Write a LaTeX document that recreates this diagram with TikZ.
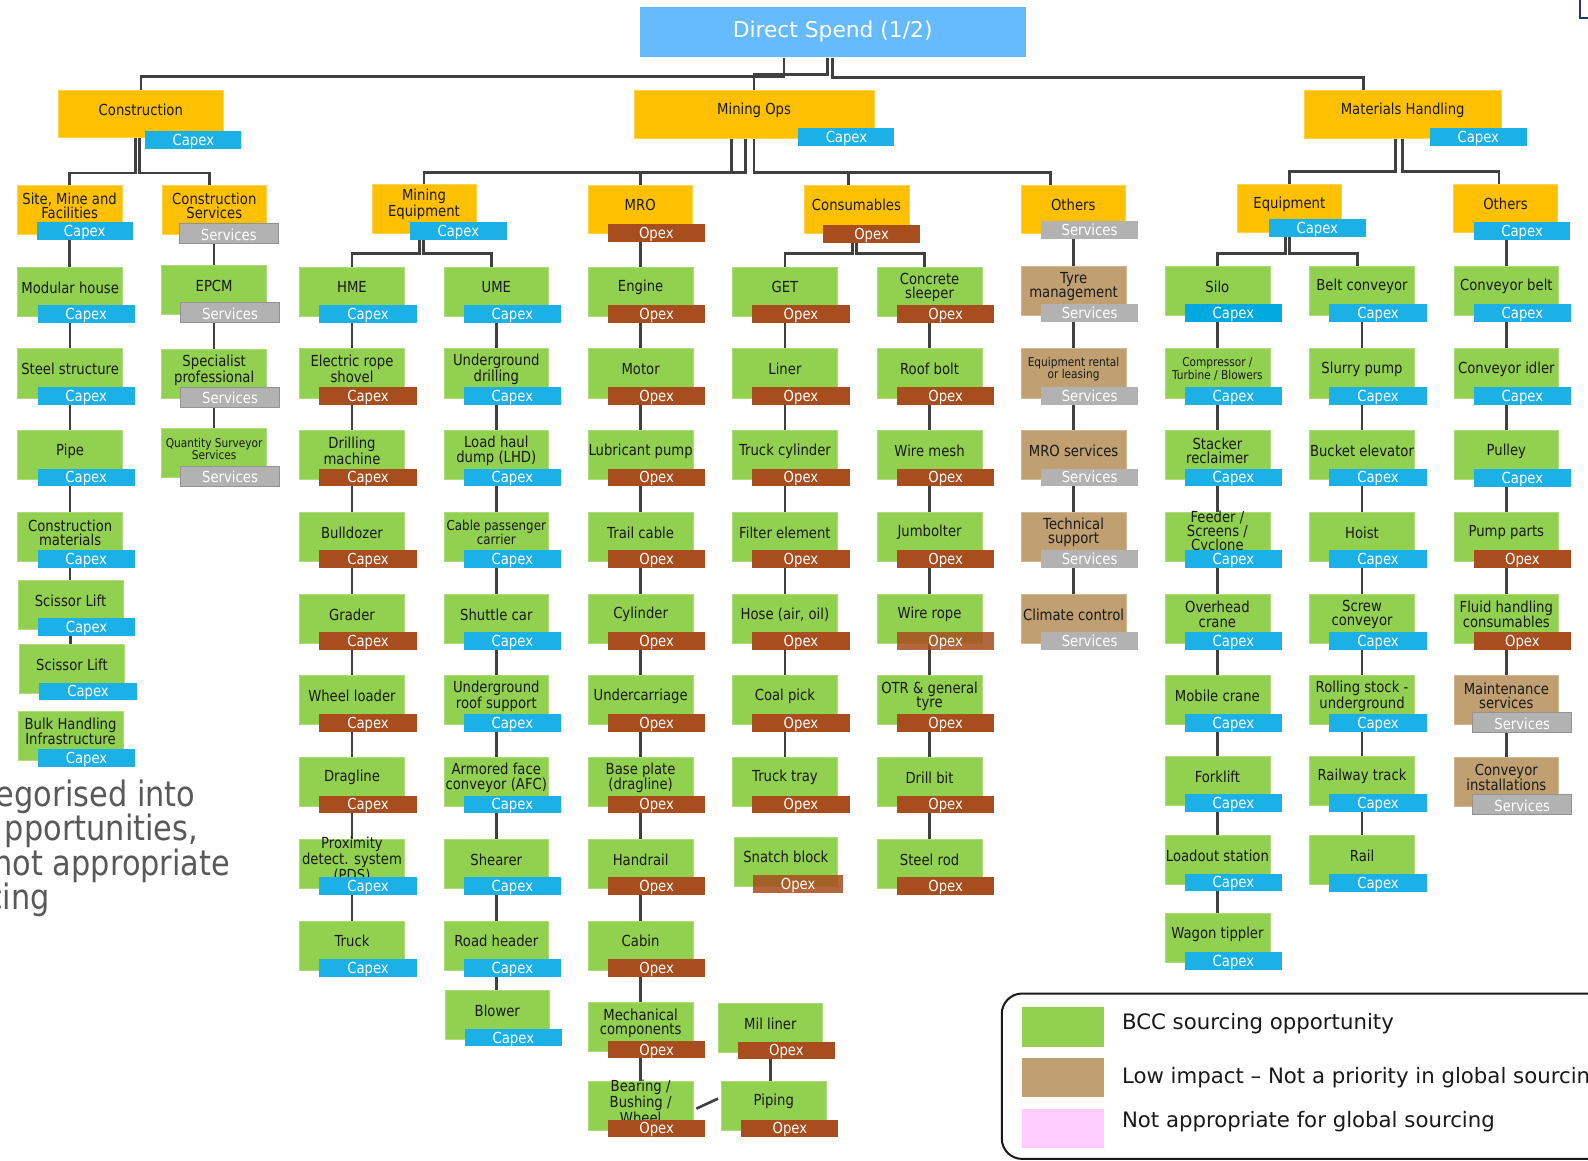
\documentclass[tikz,border=0pt]{standalone}
\usepackage{fontspec}
\setmainfont{DejaVu Sans}
\newfontfamily\condf[FakeStretch=0.87]{DejaVu Sans}
\usetikzlibrary{fit,calc}
\pgfdeclarelayer{back}
\pgfdeclarelayer{bg}
\pgfsetlayers{back,bg,main}
\definecolor{cgreen}{RGB}{146,208,80}
\definecolor{corange}{RGB}{255,192,0}
\definecolor{ctan}{RGB}{192,160,112}
\definecolor{cblue}{RGB}{27,177,230}
\definecolor{cblueb}{RGB}{0,169,224}
\definecolor{cbrown}{RGB}{168,77,30}
\definecolor{cgray}{RGB}{178,178,178}
\definecolor{ctitle}{RGB}{102,187,255}
\definecolor{cpink}{RGB}{255,204,255}
\definecolor{cline}{RGB}{64,64,64}
\definecolor{cnavy}{RGB}{31,56,100}
\definecolor{ctext}{RGB}{25,25,25}
\definecolor{cbig}{RGB}{89,89,89}
\tikzset{
  conn/.style={draw=cline, line width=2.6pt},
  txt/.style={font=\condf\fontsize{15}{14}\selectfont, align=center, inner sep=0pt, text=ctext, anchor=center},
  small/.style={font=\condf\fontsize{12}{11.5}\selectfont},
  mid/.style={font=\condf\fontsize{13.5}{13}\selectfont},
  tagtxt/.style={font=\condf\fontsize{15}{15}\selectfont, text=white, anchor=base, inner sep=0pt},
  leafbox/.style={fill=#1, draw=#1!75!white, line width=0.6pt, inner sep=0pt, minimum width=103.5pt, minimum height=48.5pt, anchor=north west},
  catbox/.style={fill=corange, draw=corange!70!white, line width=0.6pt, inner sep=0pt},
  tagbase/.style={inner sep=0pt, anchor=north west, minimum width=96pt, minimum height=17.5pt, xshift=19.7pt, yshift=-37.8pt},
  capex/.style={tagbase, fill=cblue},
  opex/.style={tagbase, fill=cbrown},
  svc/.style={tagbase, fill=cgray},
  svcb/.style={inner sep=0pt, anchor=north west, minimum width=97.9pt, minimum height=19.7pt, xshift=18.4pt, yshift=-36.9pt, fill=cgray, draw=gray!85, line width=0.8pt},
  legtxt/.style={font=\fontsize{21}{25}\selectfont, text=ctext, anchor=base west, inner sep=0pt},
  bigtxt/.style={font=\condf\fontsize{34.5}{34}\selectfont, text=cbig, anchor=base east, inner sep=0pt},
}
\newcommand\mkleaf[8][]{%
  \node[leafbox=#5] (#2) at (#3,#4) {};
  \node[txt,#1] (#2-l) at ([yshift=-20.5pt]#2.north) {#6};
  \node[#7] (#2-t) at (#3,#4) {};
  \node[tagtxt] (#2-tt) at ([yshift=3.6pt]#2-t.south) {#8};
}
\newcommand\mkcat[6]{%
  \node[catbox, fit={(#2,#3) (#4,#5)}] (#1) {};
  \node[txt] (#1-l) at ([yshift=-20pt]#1.north) {#6};
}
\newcommand\mktag[7]{%
  \node[inner sep=0pt, #6, fit={(#2,#3) (#4,#5)}] (#1) {};
  \node[tagtxt] (#1-x) at ([yshift=3.6pt]#1.south) {#7};
}
\begin{document}
\begin{tikzpicture}[x=1pt,y=-1pt]
\useasboundingbox (0,0) rectangle (1568,1146);
\begin{pgfonlayer}{back}
  \fill[white] (0,0) rectangle (1568,1146);
\end{pgfonlayer}

% ---------- title and level 1
\node[fill=ctitle, inner sep=0pt, fit={(631.7,7.2) (1012.6,56.6)}] (ds) {};
\node[font=\fontsize{21.5}{25}\selectfont, text=white, anchor=base, inner sep=0pt] (dst) at ([yshift=20pt]ds.south) {Direct Spend (1/2)};

\mkcat{cons}{57.4}{88.9}{220.7}{135.9}{Construction}
\mktag{cons-t}{143.6}{129.3}{238.3}{146.8}{fill=cblue}{Capex}
\mkcat{mops}{626.2}{88.9}{862.9}{136.9}{Mining Ops}
\mktag{mops-t}{788.4}{126.7}{883.2}{143.8}{fill=cblue}{Capex}
\mkcat{mh}{1287.5}{88.9}{1482.5}{136.6}{Materials Handling}
\mktag{mh-t}{1412}{126.7}{1507.3}{143.8}{fill=cblue}{Capex}

% ---------- level 2
\mkcat{site}{17.1}{183.3}{120.4}{231}{Site, Mine and\\Facilities}
\mktag{site-t}{36.3}{219.2}{131}{236.7}{fill=cblue}{Capex}
\mkcat{csvc}{160.2}{183.3}{263}{231}{Construction\\Services}
\mktag{csvc-t}{177.3}{220.9}{274.5}{240.6}{fill=cgray,draw=gray!85,line width=0.8pt}{Services}
\mkcat{meq}{367.3}{182.3}{470}{230.4}{Mining\\Equipment}
\mktag{meq-t}{405}{219.2}{500.2}{236.7}{fill=cblue}{Capex}
\mkcat{mro}{580.7}{182.6}{683.6}{230.4}{MRO}
\mktag{mro-t}{600.4}{221.2}{695.7}{238.6}{fill=cbrown}{Opex}
\mkcat{csm}{793.9}{182.7}{897.5}{230.4}{Consumables}
\mktag{csm-t}{812.8}{222.2}{908.4}{239.6}{fill=cbrown}{Opex}
\mkcat{oth1}{1008.1}{182.7}{1111.4}{230.4}{Others}
\mktag{oth1-t}{1028}{218.2}{1123.6}{235.7}{fill=cgray}{Services}
\mkcat{equip}{1221.4}{181.7}{1324.8}{229.7}{Equipment}
\mktag{equip-t}{1252.8}{216.2}{1348.6}{234}{fill=cblue}{Capex}
\mkcat{oth2}{1435}{181.7}{1538.1}{229.7}{Others}
\mktag{oth2-t}{1455.3}{219.2}{1550.6}{236.7}{fill=cblue}{Capex}

% ---------- column 1
\mkleaf{c1a}{17.2}{263.3}{cgreen}{Modular house}{capex}{Capex}
\mkleaf{c1b}{17.2}{344}{cgreen}{Steel structure}{capex}{Capex}
\mkleaf{c1c}{17.2}{424.7}{cgreen}{Pipe}{capex}{Capex}
\mkleaf{c1d}{17.2}{505.4}{cgreen}{Construction\\materials}{capex}{Capex}
\mkleaf{c1e}{17.6}{572.7}{cgreen}{Scissor Lift}{capex}{Capex}
\mkleaf{c1f}{19}{635.9}{cgreen}{Scissor Lift}{capex}{Capex}
\mkleaf{c1g}{17.6}{701.7}{cgreen}{Bulk Handling\\Infrastructure}{capex}{Capex}
% ---------- column 2
\mkleaf{c2a}{159.4}{261.6}{cgreen}{EPCM}{svcb}{Services}
\mkleaf{c2b}{159.4}{344.9}{cgreen}{Specialist\\professional}{svcb}{Services}
\mkleaf[small]{c2c}{159.4}{422.9}{cgreen}{Quantity Surveyor\\Services}{svcb}{Services}
% ---------- column 3
\mkleaf{c3a}{295.5}{263.3}{cgreen}{HME}{capex}{Capex}
\mkleaf{c3b}{295.5}{344}{cgreen}{Electric rope\\shovel}{opex}{Capex}
\mkleaf{c3c}{295.5}{424.7}{cgreen}{Drilling\\machine}{opex}{Capex}
\mkleaf{c3d}{295.5}{505.4}{cgreen}{Bulldozer}{opex}{Capex}
\mkleaf{c3e}{295.5}{586.1}{cgreen}{Grader}{opex}{Capex}
\mkleaf{c3f}{295.5}{666.8}{cgreen}{Wheel loader}{opex}{Capex}
\mkleaf{c3g}{295.5}{747.5}{cgreen}{Dragline}{opex}{Capex}
\mkleaf{c3h}{295.5}{828.2}{cgreen}{Proximity\\detect. system\\(PDS)}{capex}{Capex}
\mkleaf{c3i}{295.5}{908.9}{cgreen}{Truck}{capex}{Capex}
% ---------- column 4
\mkleaf{c4a}{438}{263.3}{cgreen}{UME}{capex}{Capex}
\mkleaf{c4b}{438}{344}{cgreen}{Underground\\drilling}{capex}{Capex}
\mkleaf{c4c}{438}{424.7}{cgreen}{Load haul\\dump (LHD)}{capex}{Capex}
\mkleaf[mid]{c4d}{438}{505.4}{cgreen}{Cable passenger\\carrier}{capex}{Capex}
\mkleaf{c4e}{438}{586.1}{cgreen}{Shuttle car}{capex}{Capex}
\mkleaf{c4f}{438}{666.8}{cgreen}{Underground\\roof support}{capex}{Capex}
\mkleaf{c4g}{438}{747.5}{cgreen}{Armored face\\conveyor (AFC)}{capex}{Capex}
\mkleaf{c4h}{438}{828.2}{cgreen}{Shearer}{capex}{Capex}
\mkleaf{c4i}{438}{908.9}{cgreen}{Road header}{capex}{Capex}
\mkleaf{c4j}{439}{977.8}{cgreen}{Blower}{capex}{Capex}
% ---------- column 5
\mkleaf{c5a}{580.5}{263.3}{cgreen}{Engine}{opex}{Opex}
\mkleaf{c5b}{580.5}{344}{cgreen}{Motor}{opex}{Opex}
\mkleaf{c5c}{580.5}{424.7}{cgreen}{Lubricant pump}{opex}{Opex}
\mkleaf{c5d}{580.5}{505.4}{cgreen}{Trail cable}{opex}{Opex}
\mkleaf{c5e}{580.5}{586.1}{cgreen}{Cylinder}{opex}{Opex}
\mkleaf{c5f}{580.5}{666.8}{cgreen}{Undercarriage}{opex}{Opex}
\mkleaf{c5g}{580.5}{747.5}{cgreen}{Base plate\\(dragline)}{opex}{Opex}
\mkleaf{c5h}{580.5}{828.2}{cgreen}{Handrail}{opex}{Opex}
\mkleaf{c5i}{580.5}{908.9}{cgreen}{Cabin}{opex}{Opex}
\mkleaf{c5j}{580.5}{989.6}{cgreen}{Mechanical\\components}{opex}{Opex}
\mkleaf{c5k}{580.5}{1067.4}{cgreen}{Bearing /\\Bushing /\\Wheel}{opex}{Opex}
\mkleaf{mil}{708.6}{990.4}{cgreen}{Mil liner}{opex}{Opex}
\mkleaf{pip}{712}{1067.4}{cgreen}{Piping}{opex}{Opex}
% ---------- column 6
\mkleaf{c6a}{723}{263.3}{cgreen}{GET}{opex}{Opex}
\mkleaf{c6b}{723}{344}{cgreen}{Liner}{opex}{Opex}
\mkleaf{c6c}{723}{424.7}{cgreen}{Truck cylinder}{opex}{Opex}
\mkleaf{c6d}{723}{505.4}{cgreen}{Filter element}{opex}{Opex}
\mkleaf{c6e}{723}{586.1}{cgreen}{Hose (air, oil)}{opex}{Opex}
\mkleaf{c6f}{723}{666.8}{cgreen}{Coal pick}{opex}{Opex}
\mkleaf{c6g}{723}{747.5}{cgreen}{Truck tray}{opex}{Opex}
\node[leafbox=cgreen, minimum width=101.8pt] (c6h) at (724.7,826.1) {};
\node[txt] (c6h-l) at ([yshift=-20.4pt]c6h.north) {Snatch block};
\node[opex, fill opacity=0.85, minimum width=89pt, xshift=-1pt] (c6h-t) at (724.7,826.1) {};
\node[tagtxt] (c6h-tt) at ([yshift=3.6pt]c6h-t.south) {Opex};
% ---------- column 7
\mkleaf{c7a}{865.8}{263.3}{cgreen}{Concrete\\sleeper}{opex}{Opex}
\mkleaf{c7b}{865.8}{344}{cgreen}{Roof bolt}{opex}{Opex}
\mkleaf{c7c}{865.8}{424.7}{cgreen}{Wire mesh}{opex}{Opex}
\mkleaf{c7d}{865.8}{505.4}{cgreen}{Jumbolter}{opex}{Opex}
\mkleaf{c7e}{865.8}{586.1}{cgreen}{Wire rope}{opex, fill opacity=0.85}{Opex}
\mkleaf{c7f}{865.8}{666.8}{cgreen}{OTR \& general\\tyre}{opex}{Opex}
\mkleaf{c7g}{865.8}{747.5}{cgreen}{Drill bit}{opex}{Opex}
\mkleaf{c7h}{865.8}{828.2}{cgreen}{Steel rod}{opex}{Opex}
% ---------- column 8
\mkleaf{c8a}{1008}{262.5}{ctan}{Tyre\\management}{svc}{Services}
\mkleaf[small]{c8b}{1008}{344}{ctan}{Equipment rental\\or leasing}{svc}{Services}
\mkleaf{c8c}{1008}{424.7}{ctan}{MRO services}{svc}{Services}
\mkleaf{c8d}{1008}{505.4}{ctan}{Technical\\support}{svc}{Services}
\mkleaf{c8e}{1008}{586.1}{ctan}{Climate control}{svc}{Services}
% ---------- column 9
\mkleaf{c9a}{1150}{262.5}{cgreen}{Silo}{capex, fill=cblueb}{Capex}
\mkleaf[small]{c9b}{1150}{344}{cgreen}{Compressor /\\Turbine / Blowers}{capex}{Capex}
\mkleaf{c9c}{1150}{424.7}{cgreen}{Stacker\\reclaimer}{capex}{Capex}
\mkleaf{c9d}{1150}{505.4}{cgreen}{Feeder /\\Screens /\\Cyclone}{capex}{Capex}
\mkleaf{c9e}{1150}{586.1}{cgreen}{Overhead\\crane}{capex}{Capex}
\mkleaf{c9f}{1150}{666.8}{cgreen}{Mobile crane}{capex}{Capex}
\mkleaf{c9g}{1150}{746.1}{cgreen}{Forklift}{capex}{Capex}
\mkleaf{c9h}{1150}{824.5}{cgreen}{Loadout station}{capex}{Capex}
\mkleaf{c9i}{1150}{901.8}{cgreen}{Wagon tippler}{capex}{Capex}
% ---------- column 10
\mkleaf{c10a}{1292.8}{262.5}{cgreen}{Belt conveyor}{capex}{Capex}
\mkleaf{c10b}{1292.8}{344}{cgreen}{Slurry pump}{capex}{Capex}
\mkleaf{c10c}{1292.8}{424.7}{cgreen}{Bucket elevator}{capex}{Capex}
\mkleaf{c10d}{1292.8}{505.4}{cgreen}{Hoist}{capex}{Capex}
\mkleaf{c10e}{1292.8}{586.1}{cgreen}{Screw\\conveyor}{capex}{Capex}
\mkleaf{c10f}{1292.8}{666.8}{cgreen}{Rolling stock -\\underground}{capex}{Capex}
\mkleaf{c10g}{1292.8}{746.1}{cgreen}{Railway track}{capex}{Capex}
\mkleaf{c10h}{1292.8}{824.8}{cgreen}{Rail}{capex}{Capex}
% ---------- column 11
\mkleaf{c11a}{1435.3}{262.5}{cgreen}{Conveyor belt}{capex}{Capex}
\mkleaf{c11b}{1435.3}{344}{cgreen}{Conveyor idler}{capex}{Capex}
\mkleaf{c11c}{1435.3}{424.9}{cgreen}{Pulley}{capex}{Capex}
\mkleaf{c11d}{1435.3}{505.4}{cgreen}{Pump parts}{opex}{Opex}
\mkleaf{c11e}{1435.3}{586.1}{cgreen}{Fluid handling\\consumables}{opex}{Opex}
\mkleaf{c11f}{1435.3}{666.5}{ctan}{Maintenance\\services}{svcb}{Services}
\mkleaf{c11g}{1435.3}{747.1}{ctan}{Conveyor\\installations}{svcb}{Services}

% ---------- legend
\node[draw=ctext, line width=2pt, rounded corners=20pt, inner sep=0pt, fit={(989.2,981) (1640,1144.3)}] (legend) {};
\node[fill=cgreen, inner sep=0pt, fit={(1009.2,994.3) (1090,1033.4)}] (lg1) {};
\node[fill=ctan, inner sep=0pt, fit={(1009.2,1044.7) (1090,1083.2)}] (lg2) {};
\node[fill=cpink, inner sep=0pt, fit={(1009.2,1095) (1090,1133.2)}] (lg3) {};

\begin{scope}
\clip (0,0) rectangle (1568,1146);
\node[legtxt] (lt1) at (1107.7,1016.5) {BCC sourcing opportunity};
\node[legtxt] (lt2) at (1107.7,1069.6) {Low impact – Not a priority in global sourcing};
\node[legtxt] (lt3) at (1107.7,1113.5) {Not appropriate for global sourcing};
\node[bigtxt] (bt1) at (193,796) {egorised into};
\node[bigtxt] (bt2) at (195.7,830) {pportunities,};
\node[bigtxt] (bt3) at (227.4,864) {not appropriate};
\node[bigtxt] (bt4) at (49.4,898) {cing};
\draw[cnavy, line width=2pt] (1560,-5) -- (1560,17.8) -- (1590,17.8);
\end{scope}

% ---------- connectors
\begin{pgfonlayer}{bg}
  \draw[conn] ([xshift=-48pt]ds.south) -- ++(0,18.5) -| (cons.north);
  \draw[conn] ([xshift=-5pt]ds.south) -- ++(0,17) -| (mops.north);
  \draw[conn] (ds.south) -- ++(0,19.5) -| ([xshift=-39pt]mh.north);

  \draw[conn] ([xshift=-5pt]cons.south) -- ++(0,34.5) -| (site.north);
  \draw[conn] ([xshift=-1pt]cons.south) -- ++(0,34.5) -| ([xshift=-5pt]csvc.north);

  \draw[conn] ([xshift=-22.5pt]mops.south) -- ++(0,33) -| (meq.north);
  \draw[conn] ([xshift=-8.5pt]mops.south) -- ++(0,33) -| (mro.north);
  \draw[conn] (mops.south) -- ++(0,33) -| ([xshift=-7.7pt]csm.north);
  \draw[conn] (mops.south) -- ++(0,33) -| ([xshift=-22.7pt]oth1.north);

  \draw[conn] ([xshift=-7pt]mh.south) -- ++(0,32.5) -| (equip.north);
  \draw[conn] (mh.south) -- ++(0,32.5) -| ([xshift=-6.5pt]oth2.north);

  \draw[conn] (site.south) -- (site.south |- c1a.north);
  \draw[conn] (csvc.south -| c2a.north) -- (c2a.north);
  \draw[conn] ([xshift=-4.5pt]meq.south) -- ++(0,19.5) -| (c3a.north);
  \draw[conn] ([xshift=-0.5pt]meq.south) -- ++(0,19.5) -| ([xshift=-4.5pt]c4a.north);
  \draw[conn] (mro.south -| c5a.north) -- (c5a.north);
  \draw[conn] ([xshift=-3.7pt]csm.south) -- ++(0,19.6) -| (c6a.north);
  \draw[conn] (csm.south) -- ++(0,19.6) -| ([xshift=-5pt]c7a.north);
  \draw[conn] (oth1.south -| c8a.north) -- (c8a.north);
  \draw[conn] ([xshift=-4pt]equip.south) -- ++(0,20.3) -| (c9a.north);
  \draw[conn] (equip.south) -- ++(0,20.3) -| ([xshift=-4.4pt]c10a.north);
  \draw[conn] (oth2.south -| c11a.north) -- (c11a.north);

  \foreach \a/\b in {c1a/c1b,c1b/c1c,c1c/c1d,c1d/c1e,c1e/c1f,
    c2a/c2b,c2b/c2c,
    c3a/c3b,c3b/c3c,c3c/c3d,c3d/c3e,c3e/c3f,c3f/c3g,c3g/c3h,c3h/c3i,
    c4a/c4b,c4b/c4c,c4c/c4d,c4d/c4e,c4e/c4f,c4f/c4g,c4g/c4h,c4h/c4i,c4i/c4j,
    c5a/c5b,c5b/c5c,c5c/c5d,c5d/c5e,c5e/c5f,c5f/c5g,c5g/c5h,c5h/c5i,c5i/c5j,c5j/c5k,
    c6a/c6b,c6b/c6c,c6c/c6d,c6d/c6e,c6e/c6f,c6f/c6g,
    c7a/c7b,c7b/c7c,c7c/c7d,c7d/c7e,c7e/c7f,c7f/c7g,c7g/c7h,
    c8a/c8b,c8b/c8c,c8c/c8d,c8d/c8e,
    c9a/c9b,c9b/c9c,c9c/c9d,c9d/c9e,c9e/c9f,c9f/c9g,c9g/c9h,c9h/c9i,
    c10a/c10b,c10b/c10c,c10c/c10d,c10d/c10e,c10e/c10f,c10f/c10g,c10g/c10h,
    c11a/c11b,c11b/c11c,c11c/c11d,c11d/c11e,c11e/c11f,c11f/c11g,
    mil/pip}
    \draw[conn] (\a.south) -- (\a.south |- \b.north);
  \draw[conn] ([xshift=3pt,yshift=-2.7pt]c5k.east) -- ([xshift=-3pt,yshift=7.2pt]pip.west);
\end{pgfonlayer}
\end{tikzpicture}
\end{document}
